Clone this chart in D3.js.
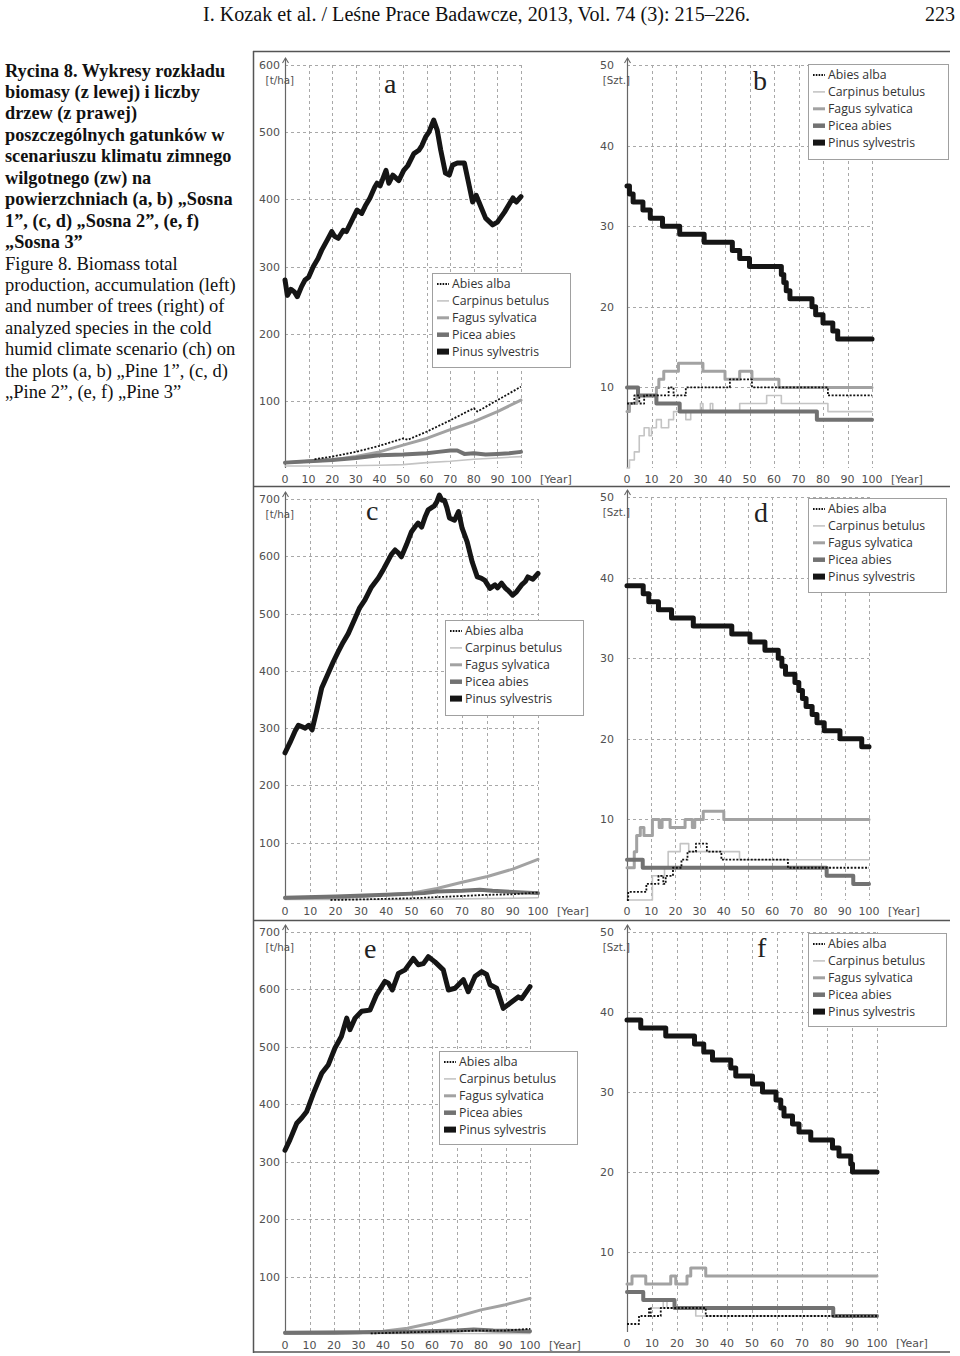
<!DOCTYPE html>
<html><head><meta charset="utf-8">
<script src="https://cdn.jsdelivr.net/npm/d3@7"></script>
<style>body{margin:0;background:#fff}svg{display:block}</style>
</head><body>
<svg id="c" width="960" height="1356"></svg>
<script>
// ---------------- DATA ----------------
const species = ["Abies alba", "Carpinus betulus", "Fagus sylvatica", "Picea abies", "Pinus sylvestris"];
const yearTicks = [0,10,20,30,40,50,60,70,80,90,100];
const bioTicksA = [100,200,300,400,500,600];
const bioTicksCE = [100,200,300,400,500,600,700];
const cntTicks = [10,20,30,40,50];

// Panel a – biomass, Sosna 1 [year, t/ha]
const aPinus = [[0,280],[1,257],[2.5,266],[4,262],[5.2,255],[7,270],[8.5,280],[10,284],[12,300],[14,312],[15.5,324],[18,340],[19.8,352],[21,345],[22.6,342],[24.7,354],[26,352],[28,366],[30.5,384],[32.5,379],[34,390],[36,402],[38,418],[39,424],[40.3,420],[42.8,443],[44,424],[45.7,436],[48.2,428],[50.3,443],[52,450],[54.6,468],[56.7,473],[58,480],[59.6,493],[61,500],[63,518],[64.5,503],[66,473],[68,439],[69.6,436],[71,451],[73,454],[76,454],[77.4,431],[79.5,396],[81,406],[83,389],[85,372],[88,362],[90,366],[93,381],[96.6,402],[98,396],[100,404]];
const aAbies = [[12.5,13],[20,17],[30,24],[40,33],[50,44],[52,42],[60,54],[70,71],[80,89],[81.5,84],[90,101],[100,121]];
const aCarpinus = [[0,3],[20,3],[40,4],[50,5],[60,8],[70,10],[80,13],[90,15],[100,17]];
const aFagus = [[0,8],[10,10],[20,12],[30,17],[40,24],[50,34],[60,44],[70,57],[80,69],[90,84],[100,101]];
const aPicea = [[0,8],[10,10],[20,12],[30,15],[40,19],[50,20],[60,22],[65,24],[70,26],[73,26],[76,21],[80,22],[85,20],[90,21],[95,22],[100,24]];

// Panel b – number of trees, Sosna 1 [year, count] (steps)
const bPinus = [[0,35],[1,34],[2.5,33],[6.5,32],[9.5,31],[14.5,30],[21.5,29],[31.5,28],[43,27],[46,26],[50,25],[63,24],[64,23],[65,22],[66.5,21],[75.5,20],[77,19],[80,18],[84,17],[86,16],[100,16]];
const bAbies = [[0,8],[3,9],[5,8],[7,9],[17,10],[19,9],[24,10],[42,11],[51,10],[82,9],[100,9]];
const bCarpinus = [[0,0],[1,1],[3,2],[5,4],[7,5],[9,4],[10,5],[12,6],[14,5],[17,6],[19,7],[24,6],[26,7],[30,8],[31,7],[34,8],[35,7],[46,8],[57,9],[63,8],[82,7],[100,7]];
const bFagus = [[0,7],[1,8],[4,9],[12,10],[13,11],[15,12],[21,13],[31,12],[40,11],[46,12],[51,11],[62,10],[100,10]];
const bPicea = [[0,10],[4.5,9],[12,8],[21.5,7],[77.5,6],[100,6]];

// Panel c – biomass, Sosna 2
const cPinus = [[0,257],[2,275],[4,295],[5.3,305],[8,300],[9.4,305],[10.7,297],[12.5,330],[14.5,370],[17,395],[19,415],[21,433],[23,450],[25,465],[27.7,492],[29.5,510],[31.6,524],[34,545],[36.9,562],[39,578],[40.8,593],[42,603],[43.5,611],[45,605],[46,599],[48,620],[50,643],[51.5,652],[52.6,658],[54,651],[55.5,670],[56.6,681],[59,688],[60,695],[61,707],[62,698],[63,698],[64,685],[65,667],[67,663],[68.6,678],[70,649],[72,625],[74,590],[76,564],[77.5,562],[79,558],[81,544],[83,550],[84,545],[85.6,553],[87,545],[88,541],[90,532],[91.5,538],[93.5,550],[95,556],[96,564],[98,560],[100,570]];
const cAbies = [[18,0],[30,1],[40,2],[50,3],[60,5],[70,7],[80,9],[90,10],[100,13]];
const cCarpinus = [[0,1],[50,1],[70,2],[90,3],[100,4]];
const cFagus = [[0,3],[20,4],[30,6],[40,9],[50,12],[60,20],[70,31],[80,41],[90,54],[100,71]];
const cPicea = [[0,4],[20,6],[40,9],[55,12],[60,15],[70,16],[77,18],[82,16],[90,14],[100,12]];

// Panel d – number of trees, Sosna 2
const dPinus = [[0,39],[6.7,38],[9,37],[13,36],[18.4,35],[27.4,34],[43.3,33],[50.8,32],[57,31],[62.5,30],[64,29],[65.5,28],[69.4,27],[71,26],[72.5,25],[74,24],[76.5,23],[78.5,22],[81.5,21],[88,20],[97,19],[100,19]];
const dAbies = [[0,0],[0.5,1],[8,2],[13,3],[15,2],[16,3],[19,4],[22.5,5],[25,6],[28.5,7],[33,6],[39,5],[66.5,4],[100,4]];
const dCarpinus = [[0,0],[10.5,3],[15.5,4],[17,6],[22,7],[25.5,6],[46.5,5],[100,5]];
const dFagus = [[0,4],[3,6],[4,8],[5.5,9],[7,8],[10.5,10],[13.3,9],[14.5,10],[17.8,9],[24,10],[27,9],[28,10],[31.5,11],[40,10],[100,10]];
const dPicea = [[0,5],[6.5,4],[82.5,3],[93.5,2],[100,2]];

// Panel e – biomass, Sosna 3
const ePinus = [[0,320],[2,338],[4.8,367],[6.8,376],[8.8,387],[11.6,419],[15,454],[17.7,469],[20.4,498],[23,518],[25.2,550],[26.5,530],[28.6,550],[31.3,562],[34.7,564],[37.4,591],[40.8,614],[42.2,611],[43.8,599],[46.3,628],[49,634],[52.4,654],[54.4,643],[56.5,645],[58.5,657],[61.2,648],[64.6,634],[66.7,599],[69.4,602],[72.8,617],[74.8,596],[77.6,623],[80.3,631],[82.3,626],[83.7,608],[86.4,602],[89.1,567],[91.8,576],[95.2,587],[96.6,584],[100,605]];
const eAbies = [[35,1],[50,3],[70,5],[80,6],[90,6],[100,9]];
const eCarpinus = [[0,1],[100,1]];
const eFagus = [[0,1],[20,1],[30,2],[40,5],[50,10],[60,19],[70,30],[80,42],[90,51],[100,62]];
const ePicea = [[0,2],[30,3],[50,4],[70,6],[77,8],[85,6],[100,5]];

// Panel f – number of trees, Sosna 3
const fPinus = [[0,39],[5.5,38],[15.5,37],[27,36],[30.7,35],[34.2,34],[41.5,33],[43.5,32],[50.2,31],[54.2,30],[59.6,29],[61.5,28],[62.8,27],[66.2,26],[68.8,25],[73.5,24],[82.2,23],[84.8,22],[89.5,21],[90.2,20],[100,20]];
const fAbies = [[0,1],[4.8,2],[8.8,3],[9.5,2],[13.5,3],[31.5,2],[100,2]];
const fCarpinus = [[9,3],[14.5,4],[16,3],[27.5,2],[100,2]];
const fFagus = [[0,6],[2,7],[7.5,6],[17.5,7],[19.5,6],[24,7],[25.5,8],[31.5,7],[100,7]];
const fPicea = [[0,5],[6.5,4],[19,3],[82.5,2],[100,2]];

const captionBold = ["Rycina 8. Wykresy rozkładu","biomasy (z lewej) i liczby","drzew (z prawej)","poszczególnych gatunków w","scenariuszu klimatu zimnego","wilgotnego (zw) na","powierzchniach (a, b) „Sosna","1”, (c, d) „Sosna 2”, (e, f)","„Sosna 3”"];
const captionReg = ["Figure  8. Biomass total","production, accumulation (left)","and number of trees (right) of","analyzed species in the cold","humid climate scenario (ch) on","the plots (a, b) „Pine 1”, (c, d)","„Pine 2”, (e, f) „Pine 3”"];

// ---------------- STYLES ----------------
const styles = {
  "Abies alba":      {stroke:"#111", w:1.8, dash:"2,1.6", lw:1.8},
  "Carpinus betulus":{stroke:"#c4c4c4", w:1.6, dash:null, lw:1.6},
  "Fagus sylvatica": {stroke:"#a2a2a2", w:3, dash:null, lw:3},
  "Picea abies":     {stroke:"#727272", w:4, dash:null, lw:4.5},
  "Pinus sylvestris":{stroke:"#151515", w:5, dash:null, lw:6}
};
const drawOrder = ["Carpinus betulus","Fagus sylvatica","Picea abies","Abies alba","Pinus sylvestris"];

const panels = [
 {id:"a", kind:"bio", x0:285, x1:521, yb:468, yt:65, ymax:600, ticks:bioTicksA, unit:"[t/ha]",
  series:{"Abies alba":aAbies,"Carpinus betulus":aCarpinus,"Fagus sylvatica":aFagus,"Picea abies":aPicea,"Pinus sylvestris":aPinus},
  letter:[384,93], leg:[432,273,138,94]},
 {id:"b", kind:"cnt", x0:627, x1:872, yb:468, yt:65, ymax:50, ticks:cntTicks, unit:"[Szt.]",
  series:{"Abies alba":bAbies,"Carpinus betulus":bCarpinus,"Fagus sylvatica":bFagus,"Picea abies":bPicea,"Pinus sylvestris":bPinus},
  letter:[753,90], leg:[808,64,140,95]},
 {id:"c", kind:"bio", x0:285, x1:538, yb:900, yt:499, ymax:700, ticks:bioTicksCE, unit:"[t/ha]",
  series:{"Abies alba":cAbies,"Carpinus betulus":cCarpinus,"Fagus sylvatica":cFagus,"Picea abies":cPicea,"Pinus sylvestris":cPinus},
  letter:[366,520], leg:[445,620,138,95]},
 {id:"d", kind:"cnt", x0:627, x1:869, yb:900, yt:497, ymax:50, ticks:cntTicks, unit:"[Szt.]",
  series:{"Abies alba":dAbies,"Carpinus betulus":dCarpinus,"Fagus sylvatica":dFagus,"Picea abies":dPicea,"Pinus sylvestris":dPinus},
  letter:[754,522], leg:[808,498,138,94]},
 {id:"e", kind:"bio", x0:285, x1:530, yb:1334, yt:932, ymax:700, ticks:bioTicksCE, unit:"[t/ha]",
  series:{"Abies alba":eAbies,"Carpinus betulus":eCarpinus,"Fagus sylvatica":eFagus,"Picea abies":ePicea,"Pinus sylvestris":ePinus},
  letter:[364,958], leg:[439,1051,138,93]},
 {id:"f", kind:"cnt", x0:627, x1:877, yb:1332, yt:932, ymax:50, ticks:cntTicks, unit:"[Szt.]",
  series:{"Abies alba":fAbies,"Carpinus betulus":fCarpinus,"Fagus sylvatica":fFagus,"Picea abies":fPicea,"Pinus sylvestris":fPinus},
  letter:[757,957], leg:[808,933,138,93]}
];

const svg = d3.select("#c");

// header
svg.append("text").attr("x",203).attr("y",21).attr("font-family","Liberation Serif")
  .attr("font-size",20).attr("fill","#111").attr("textLength",547).attr("lengthAdjust","spacingAndGlyphs")
  .text("I. Kozak et al. / Leśne Prace Badawcze, 2013, Vol. 74 (3): 215–226.");
svg.append("text").attr("x",955).attr("y",21).attr("text-anchor","end").attr("font-family","Liberation Serif")
  .attr("font-size",20).attr("fill","#111").text("223");

// caption
const cap = svg.append("g").attr("font-family","Liberation Serif").attr("fill","#111");
captionBold.forEach((t,i)=>cap.append("text").attr("x",5).attr("y",76.5+i*21.45)
  .attr("font-size",18.3).attr("font-weight","bold").text(t));
captionReg.forEach((t,i)=>cap.append("text").attr("x",5).attr("y",76.5+(i+9)*21.45)
  .attr("font-size",18.5).text(t));

// frame
const frame = svg.append("g").attr("stroke","#555").attr("stroke-width",1.5).attr("fill","none");
[51.5,486.5,920.5,1352].forEach(y=>frame.append("line").attr("x1",253).attr("x2",950).attr("y1",y).attr("y2",y));
frame.append("line").attr("x1",253.5).attr("x2",253.5).attr("y1",51).attr("y2",1353);

panels.forEach(p=>{
  const g = svg.append("g");
  const x = d3.scaleLinear().domain([0,100]).range([p.x0,p.x1]);
  const y = d3.scaleLinear().domain([0,p.ymax]).range([p.yb,p.yt]);

  // grid
  const grid = g.append("g").attr("stroke","#a8a8a8").attr("stroke-width",1).attr("stroke-dasharray","3,3");
  p.ticks.forEach(t=>grid.append("line").attr("x1",x(0)).attr("x2",x(100)).attr("y1",Math.round(y(t))+0.5).attr("y2",Math.round(y(t))+0.5));
  yearTicks.filter(t=>t>0).forEach(t=>grid.append("line").attr("x1",Math.round(x(t))+0.5).attr("x2",Math.round(x(t))+0.5).attr("y1",y(p.ymax)).attr("y2",y(0)));

  // y axis with arrow
  const ax = Math.round(x(0))+0.5;
  const top = y(p.ymax)-7;
  g.append("line").attr("x1",ax).attr("x2",ax).attr("y1",y(0)).attr("y2",top).attr("stroke","#666").attr("stroke-width",1.2);
  g.append("path").attr("d",`M${ax-3},${top+5}L${ax},${top}L${ax+3},${top+5}`).attr("fill","none").attr("stroke","#666").attr("stroke-width",1.1);

  // y tick labels
  const lblOff = p.kind==="bio"?5:13;
  p.ticks.forEach(t=>g.append("text").attr("x",x(0)-lblOff).attr("y",y(t)+4).attr("text-anchor","end")
    .attr("font-family","DejaVu Sans").attr("font-size",11).attr("fill","#505050").text(t));
  g.append("text").attr("x",x(0)+ (p.kind==="bio"?9:3)).attr("y",y(p.ymax)+19).attr("text-anchor","end")
    .attr("font-family","DejaVu Sans").attr("font-size",10.3).attr("fill","#505050").text(p.unit);

  // x tick labels
  yearTicks.forEach(t=>g.append("text").attr("x",x(t)).attr("y",y(0)+15).attr("text-anchor","middle")
    .attr("font-family","DejaVu Sans").attr("font-size",11).attr("fill","#505050").text(t));
  g.append("text").attr("x",x(100)+19).attr("y",y(0)+15)
    .attr("font-family","DejaVu Sans").attr("font-size",11).attr("fill","#505050").text("[Year]");

  // series
  const line = d3.line().x(d=>x(d[0])).y(d=>y(d[1])).curve(p.kind==="cnt"?d3.curveStepAfter:d3.curveLinear);
  drawOrder.forEach(s=>{
    const st = styles[s];
    g.append("path").datum(p.series[s]).attr("d",line).attr("fill","none")
      .attr("stroke",st.stroke).attr("stroke-width",st.w).attr("stroke-dasharray",st.dash)
      .attr("stroke-linejoin","round").attr("stroke-linecap",st.dash?"butt":"round");
  });

  // letter
  g.append("text").attr("x",p.letter[0]).attr("y",p.letter[1]).attr("font-family","Liberation Serif")
    .attr("font-size",28).attr("fill","#222").text(p.id);

  // legend
  const [lx,ly,lw,lh] = p.leg;
  const lg = g.append("g");
  lg.append("rect").attr("x",lx+0.5).attr("y",ly+0.5).attr("width",lw).attr("height",lh)
    .attr("fill","#fff").attr("stroke","#a0a0a0").attr("stroke-width",1);
  species.forEach((s,i)=>{
    const cy = ly+11+i*16.9;
    const st = styles[s];
    lg.append("line").attr("x1",lx+5).attr("x2",lx+17).attr("y1",cy).attr("y2",cy)
      .attr("stroke",st.stroke).attr("stroke-width",st.lw).attr("stroke-dasharray",st.dash?"1.6,1.2":null);
    lg.append("text").attr("x",lx+20).attr("y",cy+4.3).attr("font-family","Open Sans")
      .attr("font-size",12.3).attr("fill","#333").text(s);
  });
});
</script>
</body></html>
